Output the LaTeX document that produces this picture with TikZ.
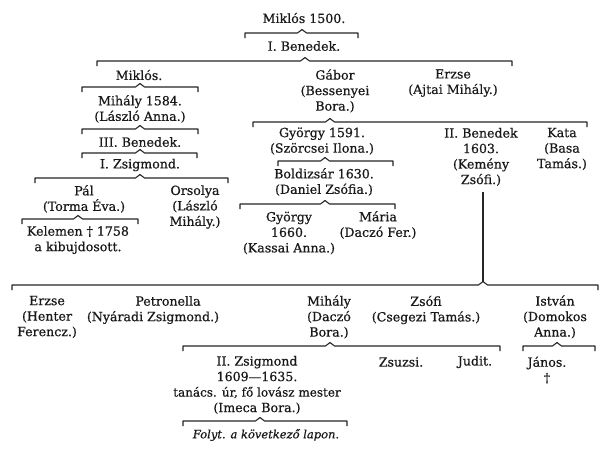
\documentclass[tikz,border=0pt]{standalone}
\usepackage{fontspec}
\setmainfont{DejaVu Serif}[FakeBold=0.6]
\tikzset{
  nm/.style={inner sep=0pt, align=center, font=\fontsize{12.6pt}{15.5pt}\selectfont, text=black!90},
  bline/.style={line width=1.1pt, draw=black!85, line join=round},
}
\newcommand\famline[5]{%
  \draw[bline] (#2,#5+5) -- (#2,#5) -- (#3-4.5,#5) -- (#3,#5-3.5) coordinate (#1) -- (#3+4.5,#5) -- (#4,#5) -- (#4,#5+5);}
\begin{document}
\begin{tikzpicture}[x=1pt,y=-1pt]
\useasboundingbox[fill=white] (0,0) rectangle (602,451);
% nodes
\node[nm] (m1500) at (304,18) {Miklós 1500.};
\node[nm] (ben1) at (304,46) {I. Benedek.};
\node[nm] (miklos) at (139,75) {Miklós.};
\node[nm] (gabor) at (335,91) {Gábor\\(Bessenyei\\Bora.)};
\node[nm] (erzse1) at (453,83) {Erzse\\(Ajtai Mihály.)};
\node[nm] (mihaly1) at (140,109) {Mihály 1584.\\(László Anna.)};
\node[nm] (ben3) at (140,142) {III. Benedek.};
\node[nm] (zsig1) at (140,165) {I. Zsigmond.};
\node[nm] (pal) at (84,199) {Pál\\(Torma Éva.)};
\node[nm] (orsolya) at (195,207) {Orsolya\\(László\\Mihály.)};
\node[nm] (kelemen) at (78,240) {Kelemen † 1758\\a kibujdosott.};
\node[nm] (gy1591) at (322,141) {György 1591.\\(Szörcsei Ilona.)};
\node[nm] (ben2) at (481,157) {II. Benedek\\1603.\\(Kemény\\Zsófi.)};
\node[nm] (kata) at (562,149) {Kata\\(Basa\\Tamás.)};
\node[nm] (bold) at (324,182) {Boldizsár 1630.\\(Daniel Zsófia.)};
\node[nm] (gy1660) at (289,233) {György\\1660.\\(Kassai Anna.)};
\node[nm] (maria) at (378,225) {Mária\\(Daczó Fer.)};
\node[nm] (erzse2) at (47,317) {Erzse\\(Henter\\Ferencz.)};
\node[nm] (petro) at (153,310) {\hspace*{30pt}Petronella\\(Nyáradi Zsigmond.)};
\node[nm] (mihaly2) at (329,317) {Mihály\\(Daczó\\Bora.)};
\node[nm] (zsofi) at (426,310) {Zsófi\\(Csegezi Tamás.)};
\node[nm] (istvan) at (555,317) {István\\(Domokos\\Anna.)};
\node[nm] (zsig2) at (257,385) {II. Zsigmond\\1609—1635.\\{\fontsize{12pt}{15.5pt}\selectfont tanács. úr, fő lovász mester}\\(Imeca Bora.)};
\node[nm] (zsuzsi) at (401,362) {Zsuzsi.};
\node[nm] (judit) at (475,362) {Judit.};
\node[nm] (janos) at (547,370) {János.\\†};
\node[nm, font=\fontsize{11.5pt}{14pt}\selectfont\itshape] (folyt) at (266,435) {Folyt. a következő lapon.};
% family brackets
\famline{b1}{245}{302}{358}{33}
\famline{b2}{97}{305}{512}{61}
\famline{b3}{82}{140}{198}{87}
\famline{b4}{82}{140}{198}{129}
\famline{b5}{82}{140}{197}{153}
\famline{b6}{35}{140}{228}{178}
\famline{b7}{22}{78}{138}{219}
\famline{b8}{253}{330}{587}{122}
\famline{b9}{278}{325}{393}{161}
\famline{b10}{240}{325}{395}{204}
\famline{b11}{12}{483}{598}{285}
\famline{b12}{183}{330}{500}{346}
\famline{b13}{523}{557}{595}{346}
\famline{b14}{183}{260}{347}{421}
\draw[bline] (ben2.south -| b11) ++(0,6) -- (b11);
\end{tikzpicture}
\end{document}
